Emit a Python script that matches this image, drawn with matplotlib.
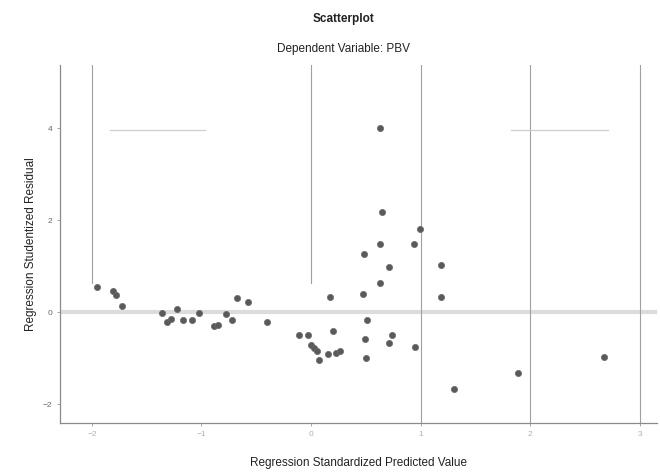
import matplotlib
matplotlib.use("Agg")
import matplotlib.pyplot as plt

plt.rcParams['font.family'] = ['Liberation Sans', 'DejaVu Sans']

# Data
pred = [-1.954, -1.808, -1.781, -1.726, -1.360, -1.314, -1.278, -1.223, -1.168, -1.086,
        -1.022, -0.885, -0.848, -0.775, -0.720, -0.675, -0.574, -0.400, -0.108, -0.026,
        0.002, 0.029, 0.057, 0.075, 0.157, 0.230, 0.267, 0.176, 0.203, 0.495,
        0.505, 0.514, 0.477, 0.486, 0.633, 0.633, 0.651, 0.633, 0.715, 0.715,
        0.742, 0.943, 0.998, 0.952, 1.190, 1.190, 1.300, 1.885, 2.671]
resid = [0.543, 0.457, 0.370, 0.130, -0.022, -0.217, -0.152, 0.065, -0.174, -0.174,
         -0.022, -0.304, -0.283, -0.043, -0.174, 0.304, 0.217, -0.217, -0.500, -0.500,
         -0.717, -0.783, -0.848, -1.043, -0.913, -0.891, -0.848, 0.326, -0.413, -0.587,
         -1.000, -0.174, 0.391, 1.261, 1.478, 4.000, 2.174, 0.630, 0.978, -0.674,
         -0.500, 1.478, 1.804, -0.761, 1.022, 0.326, -1.674, -1.326, -0.978]
xticks = [-2, -1, 0, 1, 2, 3]
yticks = [-2, 0, 2, 4]

title = "Scatterplot"
subtitle = "Dependent Variable: PBV"
xlabel = "Regression Standardized Predicted Value"
ylabel = "Regression Studentized Residual"

fig = plt.figure(figsize=(6.6, 4.72), dpi=100)
ax = fig.add_axes([0.091, 0.104, 0.905, 0.758])
ylo, yhi = -2.41, 5.37
ax.set_xlim(-2.29, 3.16)
ax.set_ylim(ylo, yhi)

# reference/grid lines
ax.axhline(0, color="#dcdcdc", lw=3, zorder=1)
frac = (0.63 - ylo) / (yhi - ylo)
for xv in [-2, 0]:
    ax.axvline(xv, ymin=frac, ymax=1, color="#a0a0a0", lw=0.8, zorder=1)
for xv in [1, 2, 3]:
    ax.axvline(xv, color="#a0a0a0", lw=0.8, zorder=1)
ax.plot([-1.835, -0.967], [3.96, 3.96], color="#cfcfcf", lw=0.9, zorder=1)
ax.plot([1.82, 2.71], [3.96, 3.96], color="#cfcfcf", lw=0.9, zorder=1)

ax.scatter(pred, resid, s=20, color="#5a5a5a", edgecolors="#6a6a6a", linewidths=0.5, zorder=3)

ax.set_xticks(xticks)
ax.set_yticks(yticks)
ax.tick_params(axis="both", labelsize=6, colors="#9a9a9a", length=2, width=0.6)
ax.tick_params(axis="y", labelcolor="#666666")
ax.tick_params(axis="x", labelcolor="#b0b0b0")

for s in ["top", "right"]:
    ax.spines[s].set_visible(False)
for s in ["left", "bottom"]:
    ax.spines[s].set_color("#8a8a8a")
    ax.spines[s].set_linewidth(0.9)

ax.set_xlabel(xlabel, fontsize=8.5, labelpad=14, color="#222222")
ax.set_ylabel(ylabel, fontsize=8.5, color="#222222")
ax.yaxis.set_label_coords(-0.038, 0.5)

fig.text(0.52, 0.96, title, ha="center", va="center", fontsize=8.5, fontweight="bold", color="#222222")
fig.text(0.52, 0.897, subtitle, ha="center", va="center", fontsize=8.5, color="#222222")

fig.savefig("out.png", dpi=100)
